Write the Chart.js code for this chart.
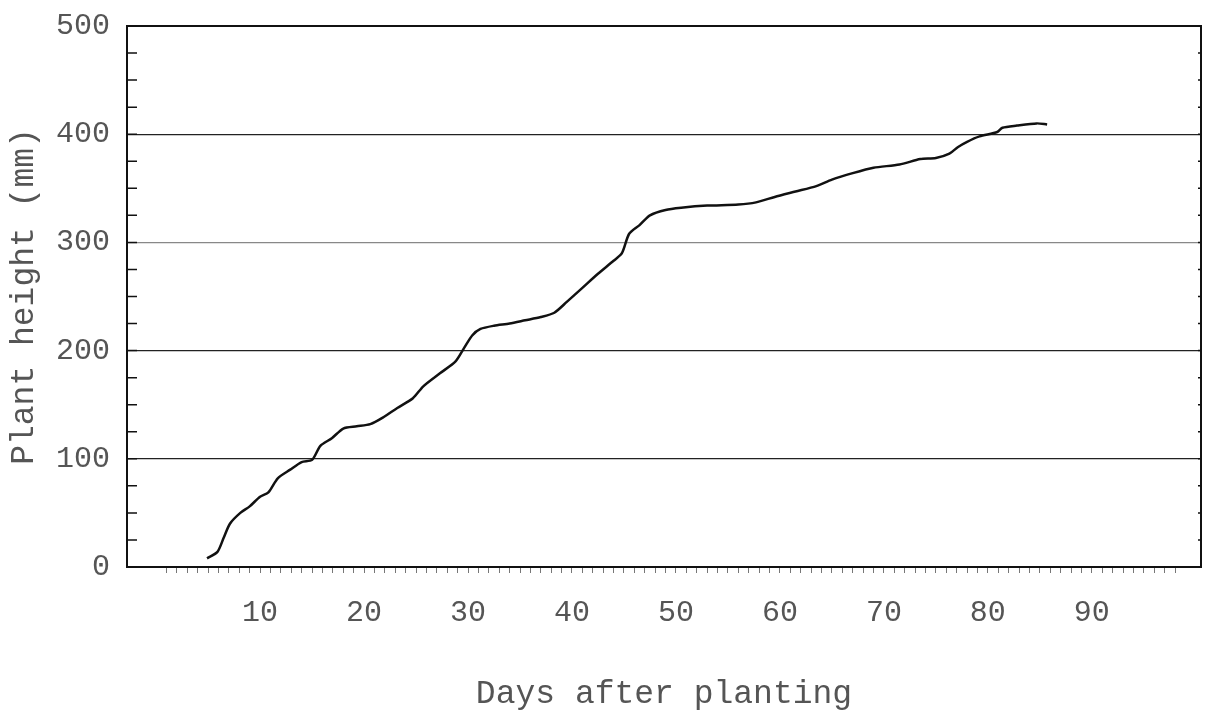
<!DOCTYPE html>
<html>
<head>
<meta charset="utf-8">
<script src="https://cdn.jsdelivr.net/npm/chart.js@4"></script>
<style>
  body { margin: 0; background: #fff; }
  canvas { display: block; }
</style>
</head>
<body>
<canvas id="growth-chart" width="1209" height="720"></canvas>
<script>
// Plant height readings (days after planting -> height in mm)
const days = [4.9, 5.9, 6.5, 7.1, 8.1, 9.0, 10.0, 10.8, 11.7, 12.9, 14.0, 15.0, 15.8, 16.9, 18.0, 19.3,
  20.6, 21.8, 23.2, 24.7, 25.7, 27.3, 28.8, 29.6, 30.4, 31.2, 32.5, 34.0, 35.5, 37.0, 38.3, 39.5,
  41.0, 42.5, 44.0, 44.8, 45.5, 46.5, 47.5, 49.0, 50.5, 53.0, 56.0, 57.7, 59.5, 61.5, 63.5, 65.0,
  67.0, 69.0, 71.5, 73.5, 75.0, 76.3, 77.1, 78.0, 79.2, 80.9, 81.4, 82.8, 84.7, 85.7];
const heights = [8, 14, 27, 40, 50, 56, 65, 69, 82, 90, 97, 99, 112, 119, 128, 130,
  132, 138, 147, 156, 167, 179, 190, 202, 214, 220, 223, 225, 228, 231, 235, 245,
  258, 271, 283, 290, 308, 316, 325, 330, 332, 334, 335, 337, 342, 347, 352, 358,
  364, 369, 372, 377, 378, 382, 388, 393, 398, 402, 406, 408, 410, 409];

// Axis ticks
const xLabels = [10, 20, 30, 40, 50, 60, 70, 80, 90];
const xMinor = Array.from({ length: 98 }, (_, i) => i + 1);
const yLabels = [0, 100, 200, 300, 400, 500];
const yMinor = Array.from({ length: 21 }, (_, i) => i * 25);

const ctx = document.getElementById('growth-chart').getContext('2d');
const textColor = '#555';
const mono = 'Liberation Mono';

// Box around the plot plus small inward ticks on the height axis
const frame = {
  id: 'frame',
  afterDraw(chart) {
    const { ctx, chartArea: a, scales: { y } } = chart;
    ctx.save();
    ctx.strokeStyle = '#111';
    ctx.lineWidth = 2;
    ctx.strokeRect(a.left, a.top, a.right - a.left, a.bottom - a.top);
    ctx.lineWidth = 1.5;
    yMinor.forEach((v) => {
      const py = y.getPixelForValue(v);
      ctx.beginPath();
      ctx.moveTo(a.left, py);
      ctx.lineTo(a.left + 10, py);
      ctx.moveTo(a.right, py);
      ctx.lineTo(a.right - 3, py);
      ctx.stroke();
    });
    ctx.restore();
  }
};

new Chart(ctx, {
  type: 'line',
  data: {
    datasets: [{
      data: days.map((d, i) => ({ x: d, y: heights[i] })),
      borderColor: '#111',
      borderWidth: 2.5,
      pointRadius: 0,
      tension: 0.25,
      fill: false
    }]
  },
  options: {
    responsive: false,
    animation: false,
    layout: { autoPadding: false, padding: { top: 26, right: 8, left: 0, bottom: 0 } },
    plugins: { legend: { display: false }, tooltip: { enabled: false } },
    scales: {
      x: {
        type: 'linear',
        min: -2.8,
        max: 100.5,
        afterBuildTicks: (scale) => { scale.ticks = xMinor.map((v) => ({ value: v })); },
        afterFit: (scale) => { scale.height = 153; scale.paddingLeft = 0; scale.paddingRight = 0; },
        border: { display: false },
        grid: { drawOnChartArea: false, drawTicks: true, tickLength: 6, color: '#777', lineWidth: 1 },
        ticks: {
          autoSkip: false,
          maxRotation: 0,
          padding: 22,
          color: textColor,
          font: { family: mono, size: 30 },
          callback: (v) => (xLabels.includes(v) ? String(v) : '')
        },
        title: {
          display: true,
          text: 'Days after planting',
          color: textColor,
          font: { family: mono, size: 33 },
          padding: { top: 0, bottom: 6 }
        }
      },
      y: {
        min: 0,
        max: 500,
        afterBuildTicks: (scale) => { scale.ticks = yLabels.map((v) => ({ value: v })); },
        afterFit: (scale) => { scale.width = 127; scale.paddingTop = 0; scale.paddingBottom = 0; },
        border: { display: false },
        grid: {
          drawTicks: false,
          lineWidth: 1.2,
          color: (c) => {
            const v = c.tick ? c.tick.value : 0;
            if (v === 0 || v === 500) return 'rgba(0,0,0,0)';
            return v === 300 ? '#888' : '#222';
          }
        },
        ticks: {
          padding: 17,
          color: textColor,
          font: { family: mono, size: 30 }
        },
        title: {
          display: true,
          text: 'Plant height (mm)',
          color: textColor,
          font: { family: mono, size: 33 },
          padding: { top: 4, bottom: 0 }
        }
      }
    }
  },
  plugins: [frame]
});
</script>
</body>
</html>
